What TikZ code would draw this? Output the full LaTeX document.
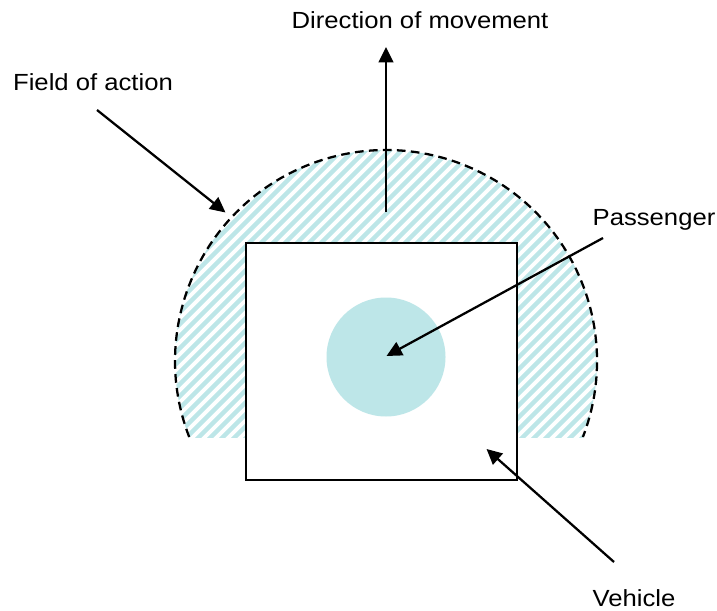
\documentclass[tikz,border=0pt]{standalone}
\usepackage{fontspec}
\setmainfont[FakeStretch=1.1]{Liberation Sans}
\usetikzlibrary{arrows.meta}
\definecolor{hatchcol}{RGB}{189,230,232}
\tikzset{
  lbl/.style={anchor=base, inner sep=0pt, font=\fontsize{17.5pt}{21pt}\selectfont},
  pointer/.style={line width=1.7pt, -{Triangle[length=11.5pt,width=11pt]}},
}
\begin{document}
\begin{tikzpicture}[x=0.75pt,y=-0.75pt]
\useasboundingbox (0,0) rectangle (717,610);
% hatched field of action
\begin{scope}
  \clip (0,0) rectangle (717,437.5);
  \clip (386,361) circle[radius=211];
  \foreach \c in {-408,-396,...,708}
    \draw[hatchcol, line width=3.3pt] (\c,480) -- ++(360,-360);
\end{scope}
\draw[line width=1.7pt, dash pattern=on 6.5pt off 4pt]
  (189.2,437) arc[start angle=158.9, end angle=381.1, radius=211];
% vehicle
\node[draw, fill=white, line width=2pt, minimum width=203.25pt, minimum height=177.75pt, inner sep=0pt] (veh) at (381.5,361.5) {};
% passenger
\node[circle, fill=hatchcol, minimum size=89.25pt, inner sep=0pt] (pas) at (386,357) {};
% labels
\node[lbl] (tdir) at (420,28.3) {Direction of movement};
\node[lbl] (tfield) at (93,90.7) {Field of action};
\node[lbl] (tpas) at (654,225) {Passenger};
\node[lbl] (tveh) at (634,606.5) {Vehicle};
% arrow end points
\coordinate (dirS) at (386,212);
\coordinate (dirT) at (386,47);
\coordinate (fieldS) at (97,110);
\coordinate (fieldT) at (225.5,212.5);
\coordinate (pasS) at (603,238);
\coordinate (pasT) at (386.5,356);
\coordinate (vehS) at (614,562);
\coordinate (vehT) at (486.5,449);
\draw[pointer] (dirS) -- (dirT);
\draw[pointer] (fieldS) -- (fieldT);
\draw[pointer] (pasS) -- (pasT);
\draw[pointer] (vehS) -- (vehT);
\end{tikzpicture}
\end{document}
